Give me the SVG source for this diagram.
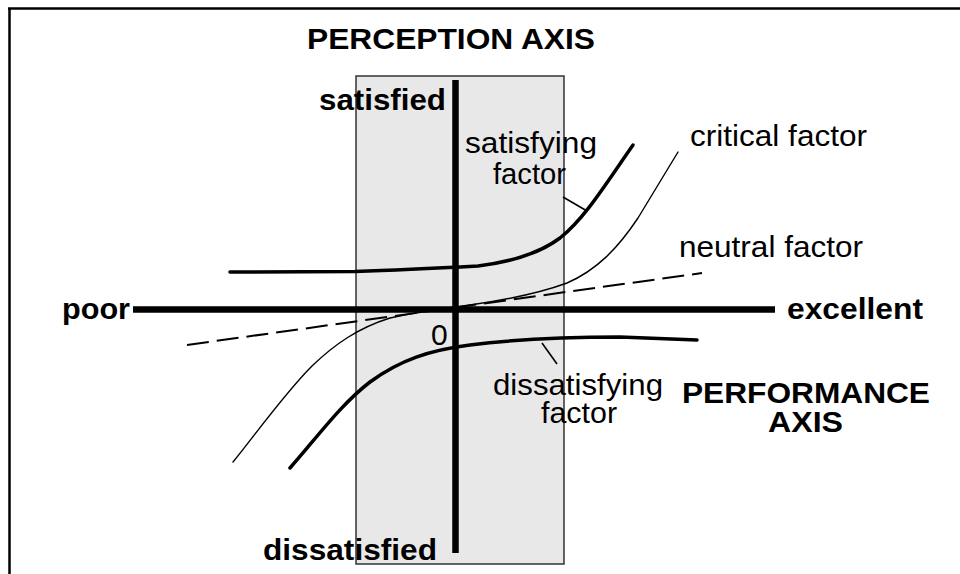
<svg xmlns="http://www.w3.org/2000/svg" width="960" height="574" viewBox="0 0 960 574">
<style>
text{font-family:"Liberation Sans",Arial,Helvetica,sans-serif;font-size:30px;fill:#000}
.b{font-weight:bold}
.axis{stroke:#000;stroke-width:6.5;fill:none}
.thick{stroke:#000;stroke-width:3.5;fill:none;stroke-linecap:round;stroke-linejoin:round}
.thin{stroke:#000;stroke-width:1.4;fill:none;stroke-linecap:round;stroke-linejoin:round}
.dash{stroke:#000;stroke-width:2;fill:none;stroke-dasharray:22 8}
.lead{stroke:#000;stroke-width:1.6;fill:none}
</style>
<rect width="960" height="574" fill="#fff"/>
<g id="frame">
<line x1="8" y1="8.5" x2="960" y2="8.5" stroke="#000" stroke-width="2.5"/>
<line x1="9.5" y1="8" x2="9.5" y2="574" stroke="#000" stroke-width="2.5"/>
</g>
<g id="perception-band">
<rect x="356" y="76" width="208" height="488" fill="#e8e8e8" stroke="#333" stroke-width="1.5"/>
</g>
<g id="connectors">
<path id="satisfying-curve" class="thick" d="M230,272 L355,271.5 C400,270 440,268 478,266 C510,262 540,253 560,238 C585,218 605,185 633,145"/>
<path id="critical-curve" class="thin" d="M233,462 C255,435 285,393 312,366 C335,344 358,328 390,318 C415,312 440,309 470,305 C505,300 540,293 567,283 C597,270 618,248 638,218 C650,198 662,178 678,152"/>
<path id="dissatisfying-curve" class="thick" d="M290,468 C315,440 340,405 370,382 C400,360 430,350 470,345 C510,340 560,337 620,337 L697,340"/>
<path id="neutral-line" class="dash" d="M187,345 L702,273"/>
<line class="lead" x1="563" y1="197" x2="587" y2="211"/>
<line class="lead" x1="542" y1="343" x2="557" y2="364"/>
</g>
<g id="axes">
<line id="perception-axis" class="axis" x1="455.5" y1="80" x2="455.5" y2="553"/>
<line id="performance-axis" class="axis" x1="133" y1="309.5" x2="775" y2="309.5"/>
</g>
<g id="labels">
<text class="b" x="307" y="49" textLength="288" lengthAdjust="spacingAndGlyphs">PERCEPTION AXIS</text>
<text class="b" x="319" y="110" textLength="127" lengthAdjust="spacingAndGlyphs">satisfied</text>
<text class="b" x="263" y="560" textLength="174" lengthAdjust="spacingAndGlyphs">dissatisfied</text>
<text class="b" x="62" y="319" textLength="68" lengthAdjust="spacingAndGlyphs">poor</text>
<text class="b" x="787" y="319" textLength="136" lengthAdjust="spacingAndGlyphs">excellent</text>
<text x="431" y="345">0</text>
<text class="b" x="682" y="403" textLength="248" lengthAdjust="spacingAndGlyphs">PERFORMANCE</text>
<text class="b" x="768" y="432" textLength="75" lengthAdjust="spacingAndGlyphs">AXIS</text>
</g>
<g id="satisfying-factor">
<text x="465" y="153" textLength="132" lengthAdjust="spacingAndGlyphs">satisfying</text>
<text x="493" y="184" textLength="73" lengthAdjust="spacingAndGlyphs">factor</text>
</g>
<g id="critical-factor">
<text x="690" y="146" textLength="177" lengthAdjust="spacingAndGlyphs">critical factor</text>
</g>
<g id="neutral-factor">
<text x="679" y="257" textLength="184" lengthAdjust="spacingAndGlyphs">neutral factor</text>
</g>
<g id="dissatisfying-factor">
<text x="493" y="395" textLength="170" lengthAdjust="spacingAndGlyphs">dissatisfying</text>
<text x="541" y="423" textLength="76" lengthAdjust="spacingAndGlyphs">factor</text>
</g>
</svg>
